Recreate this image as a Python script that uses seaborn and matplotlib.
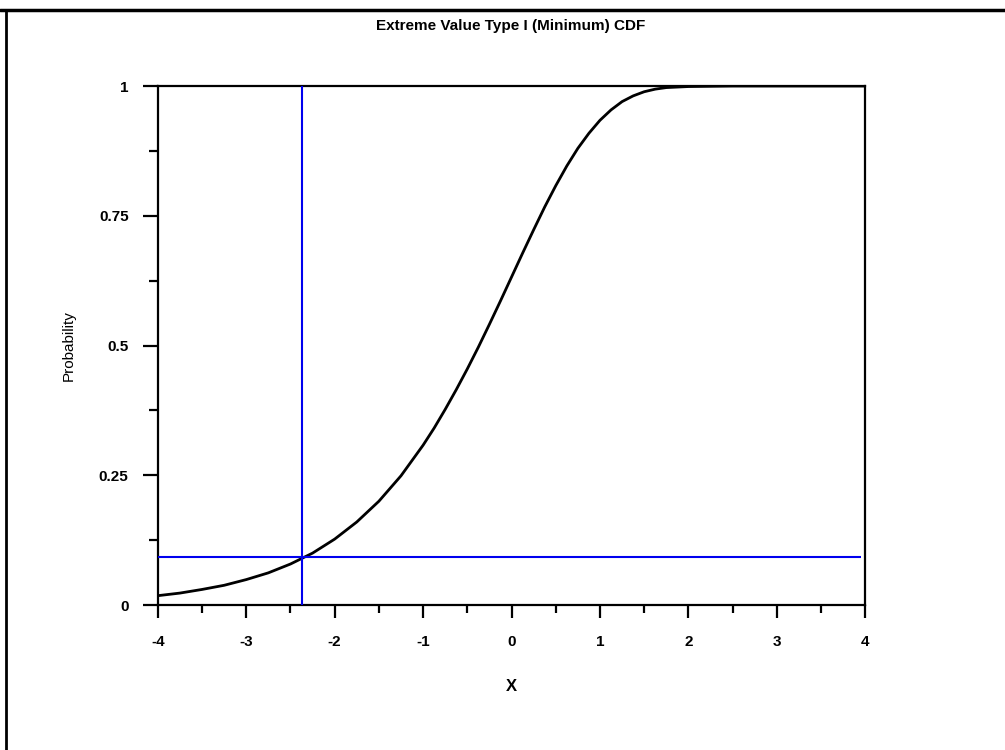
import numpy as np
import pandas as pd
import matplotlib
matplotlib.use("Agg")
from matplotlib import pyplot
from matplotlib.lines import Line2D
import seaborn as sns

# values
x_vals = [-4.0, -3.75, -3.5, -3.25, -3.0, -2.75, -2.5, -2.25, -2.0, -1.75,
          -1.5, -1.25, -1.0, -0.875, -0.75, -0.625, -0.5, -0.375, -0.25, -0.125,
          0.0, 0.125, 0.25, 0.375, 0.5, 0.625, 0.75, 0.875, 1.0, 1.125,
          1.25, 1.375, 1.5, 1.625, 1.75, 1.875, 2.0, 2.5, 3.0, 3.5, 4.0]
prob_vals = [0.018, 0.023, 0.030, 0.038, 0.049, 0.062, 0.079, 0.100, 0.127, 0.160,
             0.200, 0.249, 0.308, 0.341, 0.377, 0.415, 0.455, 0.497, 0.541, 0.586,
             0.632, 0.678, 0.723, 0.767, 0.808, 0.846, 0.880, 0.909, 0.934, 0.954,
             0.970, 0.981, 0.989, 0.994, 0.997, 0.998, 0.999, 1.0, 1.0, 1.0, 1.0]

# reference lines (blue)
ref_x = -2.37
ref_p = 0.092
ref_h_end = 3.95

x_ticks = [-4, -3, -2, -1, 0, 1, 2, 3, 4]
y_ticks = [0, 0.25, 0.5, 0.75, 1]
y_labels = ['0', '0.25', '0.5', '0.75', '1']

df = pd.DataFrame({'x': x_vals, 'p': prob_vals})

sns.set_theme(style="ticks")
pyplot.rcParams['font.family'] = ['Liberation Sans', 'DejaVu Sans']
pyplot.rcParams['text.color'] = 'black'
pyplot.rcParams['axes.labelcolor'] = 'black'
pyplot.rcParams['xtick.color'] = 'black'
pyplot.rcParams['ytick.color'] = 'black'

fig = pyplot.figure(figsize=(10.05, 7.5), dpi=100)
ax = fig.add_axes([0.157, 0.1933, 0.704, 0.692])

sns.lineplot(data=df, x='x', y='p', color='black', linewidth=2, ax=ax)
ax.vlines(ref_x, 0, 1, color='#0000ee', linewidth=1.5, zorder=3)
ax.hlines(ref_p, -4, ref_h_end, color='#0000ee', linewidth=1.5, zorder=3)

ax.set_xlim(-4, 4)
ax.set_ylim(0, 1)
ax.set_xticks(x_ticks)
ax.set_xticklabels([str(v) for v in x_ticks])
ax.set_xticks(np.arange(-3.5, 4, 1), minor=True)
ax.set_yticks(y_ticks)
ax.set_yticklabels(y_labels)
ax.set_yticks([0.125, 0.375, 0.625, 0.875], minor=True)

for sp in ax.spines.values():
    sp.set_linewidth(1.6)
    sp.set_color('black')
ax.tick_params(axis='x', which='major', length=9.5, width=1.6, direction='out', pad=12, labelsize=11)
ax.tick_params(axis='x', which='minor', length=6, width=1.6, direction='out')
ax.tick_params(axis='y', which='major', length=11, width=1.6, direction='out', pad=10, labelsize=11)
ax.tick_params(axis='y', which='minor', length=6.5, width=1.6, direction='out')
for lab in ax.get_xticklabels() + ax.get_yticklabels():
    lab.set_fontweight('bold')

ax.set_xlabel('X', fontsize=12, fontweight='bold', labelpad=22)
ax.set_ylabel('Probability', fontsize=11, labelpad=17)

fig.text(0.508, 0.965, 'Extreme Value Type I (Minimum) CDF', ha='center', va='center',
         fontsize=11, fontweight='bold')

# outer frame lines at the top and left
fig.add_artist(Line2D([0, 1], [0.987, 0.987], color='black', linewidth=2.5, transform=fig.transFigure))
fig.add_artist(Line2D([0.006, 0.006], [0, 0.987], color='black', linewidth=2, transform=fig.transFigure))

fig.savefig('out.png', dpi=100)
